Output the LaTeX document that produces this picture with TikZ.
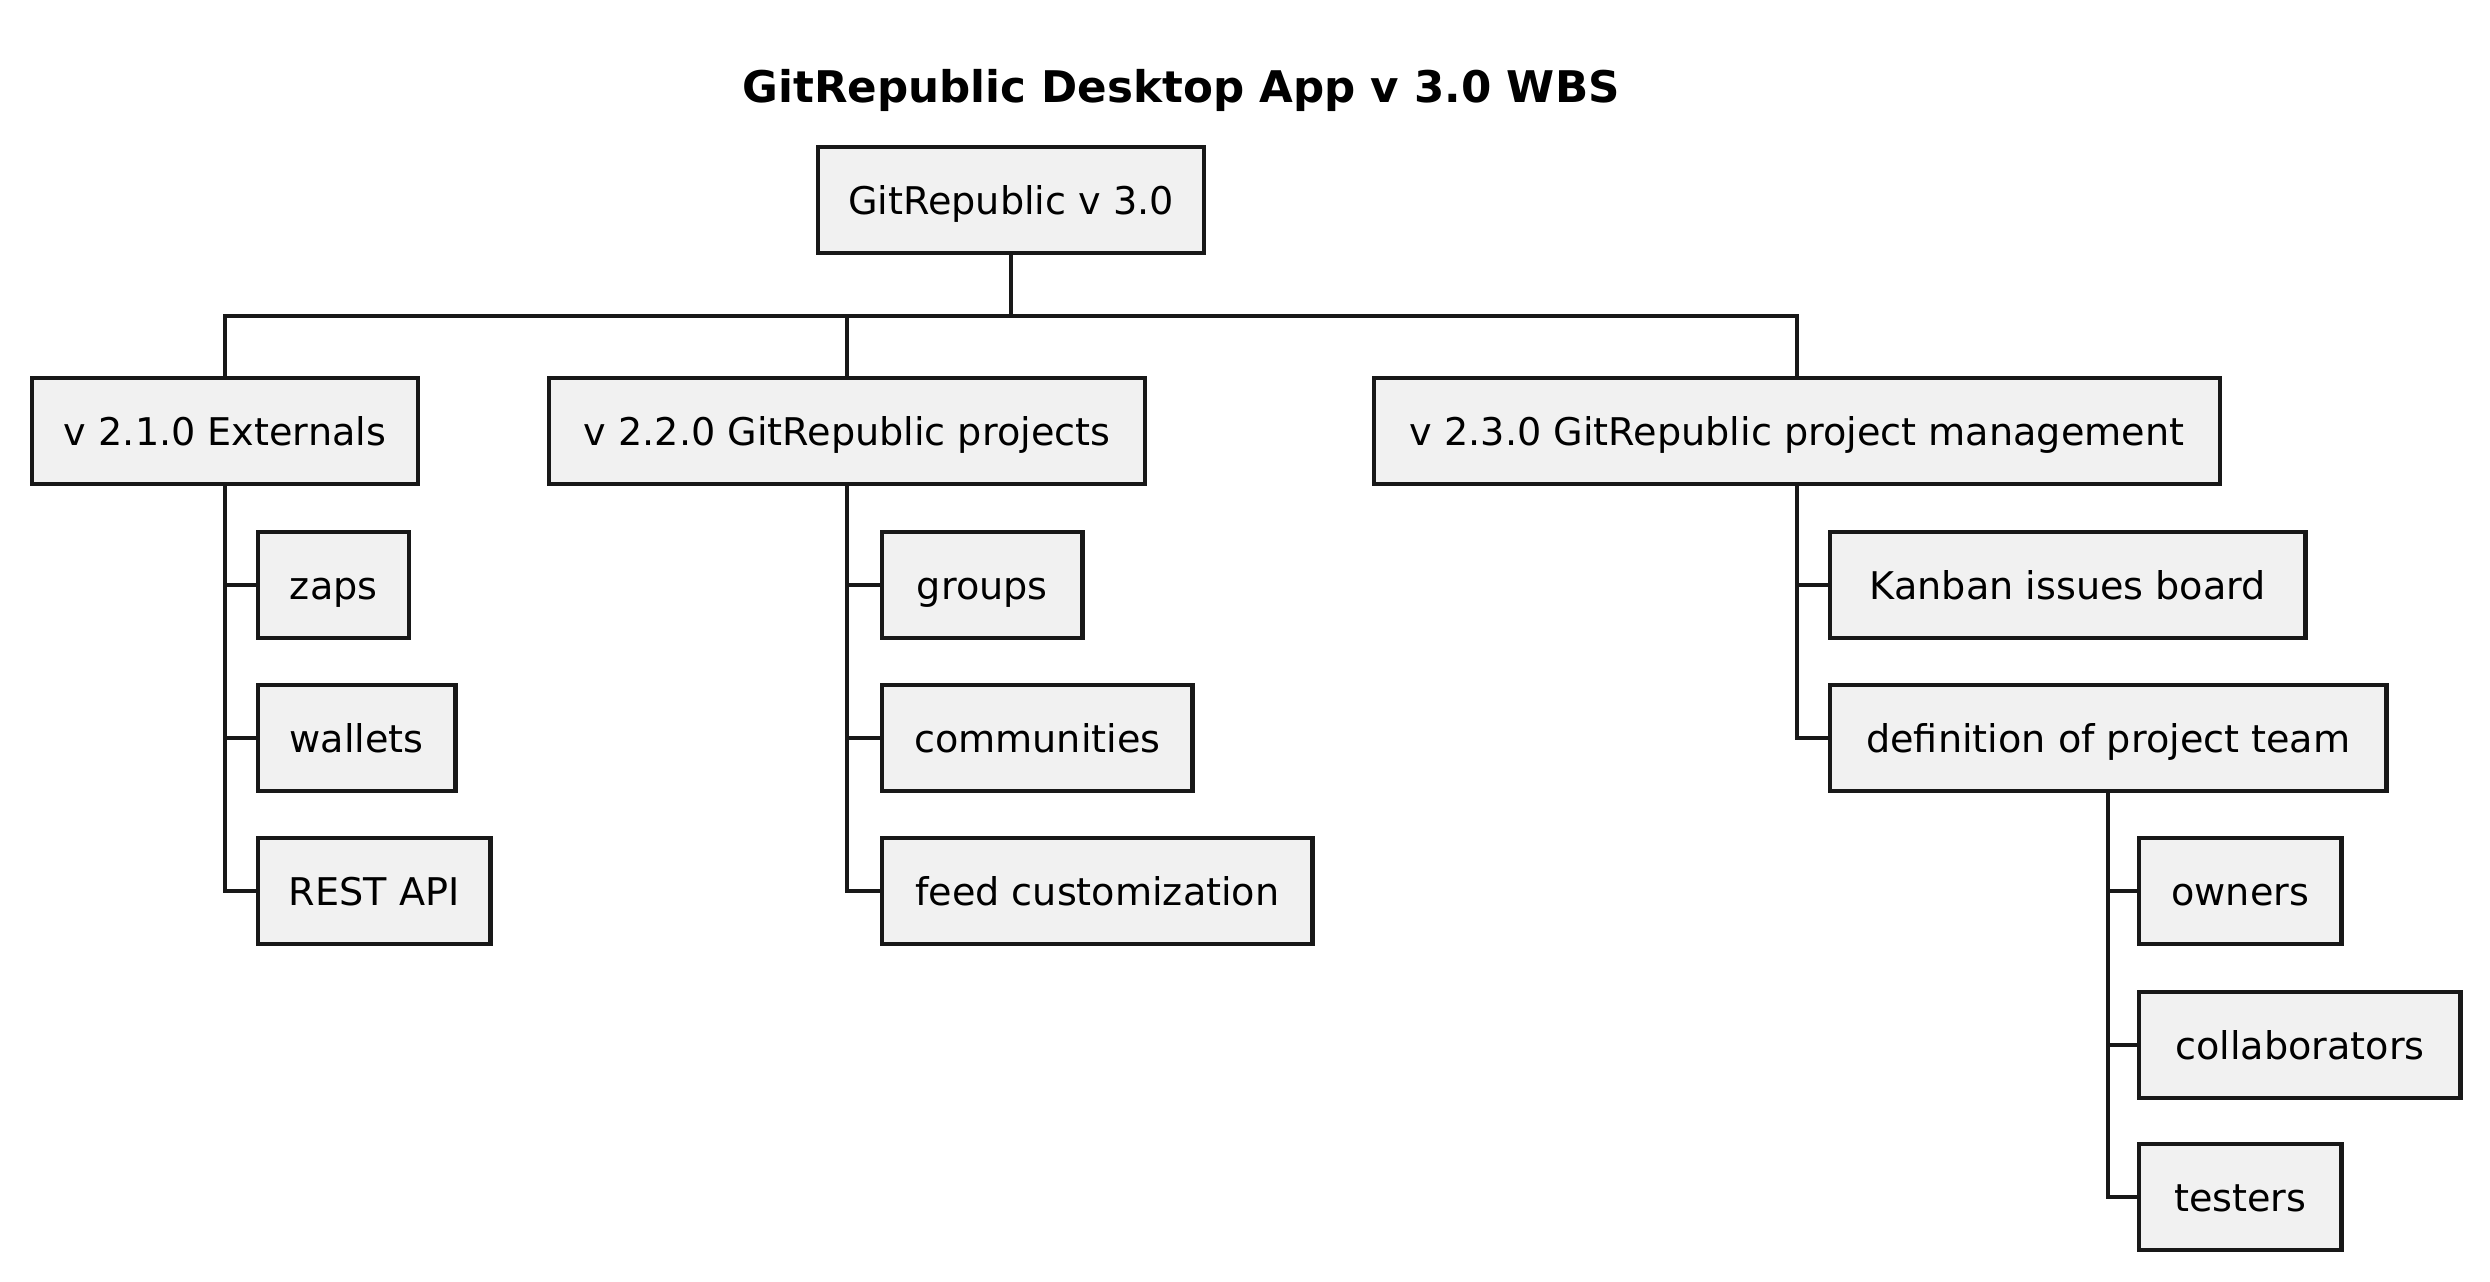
\documentclass[tikz,border=0pt]{standalone}
\usepackage{fontspec}
\setmainfont{DejaVu Sans}
\definecolor{boxfill}{HTML}{F1F1F1}
\definecolor{linecol}{HTML}{181818}
\begin{document}
\begin{tikzpicture}[x=0.01cm,y=-0.01cm,
  wbsbox/.style={draw=linecol,fill=boxfill,line width=1.25pt,minimum height=1.06cm,
    inner xsep=0.2cm,inner ysep=0pt,text height=0.38cm,text depth=0.09cm,
    font=\fontsize{10.85}{12}\selectfont},
  conn/.style={draw=linecol,line width=1.2pt},
  titletext/.style={font=\fontsize{12.4}{14}\selectfont\bfseries}]
\useasboundingbox (0,0) rectangle (2490,1281);
\node[titletext] (title) at (1181,90) {GitRepublic Desktop App v 3.0 WBS};
\node[wbsbox,minimum width=3.86cm] (root) at (1011,200) {GitRepublic v 3.0};
\coordinate (bar) at (1011,316);
\node[wbsbox,minimum width=3.86cm] (ext) at (225,431) {v 2.1.0 Externals};
\node[wbsbox,minimum width=5.96cm] (proj) at (847,431) {v 2.2.0 GitRepublic projects};
\node[wbsbox,minimum width=8.46cm] (mgmt) at (1797,431) {v 2.3.0 GitRepublic project management};
% externals children
\node[wbsbox,anchor=west,minimum width=1.51cm] (zaps) at (256,585) {zaps};
\node[wbsbox,anchor=west,minimum width=1.97cm] (wallets) at (256,738) {wallets};
\node[wbsbox,anchor=west,minimum width=2.32cm] (rest) at (256,891) {REST API};
% projects children
\node[wbsbox,anchor=west,minimum width=2.00cm] (groups) at (880,585) {groups};
\node[wbsbox,anchor=west,minimum width=3.10cm] (comm) at (880,738) {communities};
\node[wbsbox,anchor=west,minimum width=4.30cm] (feed) at (880,891) {feed customization};
% management children
\node[wbsbox,anchor=west,minimum width=4.75cm] (kanban) at (1828,585) {Kanban issues board};
\node[wbsbox,anchor=west,minimum width=5.56cm] (defteam) at (1828,738) {definition of project team};
% team children
\node[wbsbox,anchor=west,minimum width=2.02cm] (owners) at (2137,891) {owners};
\node[wbsbox,anchor=west,minimum width=3.21cm] (collab) at (2137,1045) {collaborators};
\node[wbsbox,anchor=west,minimum width=2.02cm] (testers) at (2137,1197) {testers};
% connectors
\draw[conn] (root.south) -- (bar) -| (ext.north);
\draw[conn] (root.south) -- (bar) -| (proj.north);
\draw[conn] (root.south) -- (bar) -| (mgmt.north);
\foreach \c in {zaps,wallets,rest} \draw[conn] (ext.south) |- (\c.west);
\foreach \c in {groups,comm,feed} \draw[conn] (proj.south) |- (\c.west);
\foreach \c in {kanban,defteam} \draw[conn] (mgmt.south) |- (\c.west);
\foreach \c in {owners,collab,testers} \draw[conn] (defteam.south) |- (\c.west);
\end{tikzpicture}
\end{document}
